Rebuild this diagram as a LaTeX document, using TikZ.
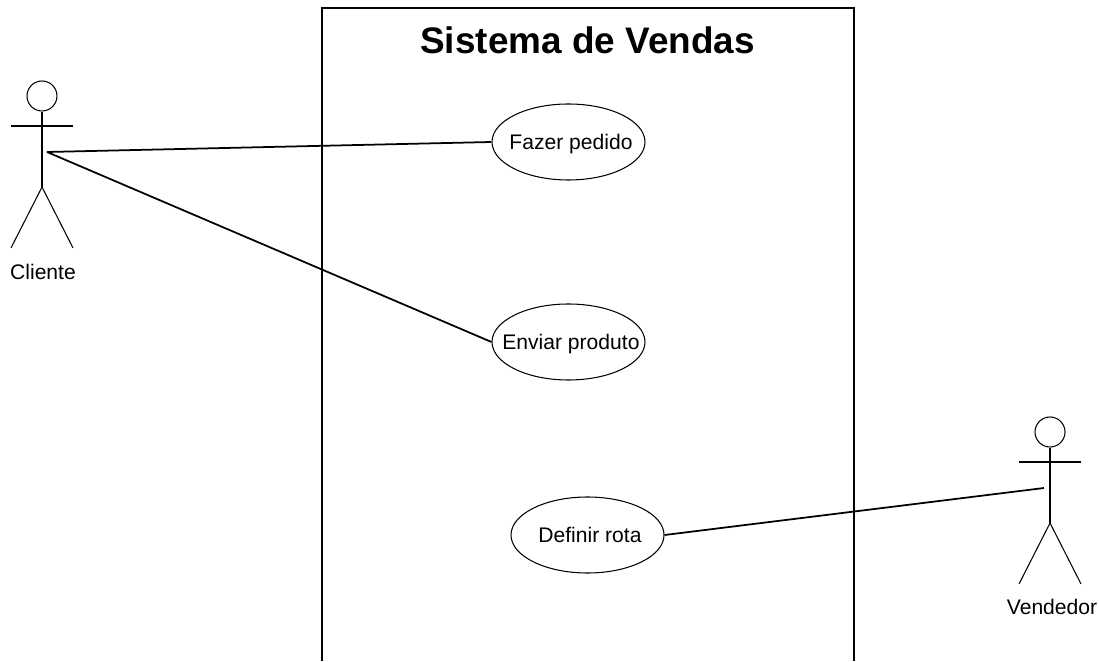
\documentclass[tikz,border=0pt]{standalone}
\usepackage{fontspec}
\setmainfont{Liberation Sans}
\usetikzlibrary{shapes.geometric}
\newcommand{\uctext}[1]{\raisebox{-4pt}[0pt][0pt]{\makebox[0pt]{\hspace{2.8pt}#1}}}
\tikzset{
  usecase/.style={draw,ellipse,line width=0.6pt,minimum width=3.06cm,minimum height=1.52cm,inner sep=0pt,font=\fontsize{12}{14}\selectfont},
  actorhead/.style={draw,circle,line width=0.6pt,minimum size=0.6cm,inner sep=0pt},
  actorline/.style={line width=0.6pt},
  actorname/.style={font=\fontsize{12}{14}\selectfont},
  assoc/.style={line width=1pt},
}
\begin{document}
\begin{tikzpicture}
		\useasboundingbox (0,0) rectangle (21.98,13.22);
		\draw [line width=1pt] (6.44,0) -- (6.44,13.06) -- (17.08,13.06) -- (17.08,0);
		\node [font=\fontsize{21}{25}\selectfont\bfseries] (title) at (11.75,12.42) {Sistema de Vendas};
		\node [usecase] (fazer) at (11.37,10.38) {\uctext{Fazer pedido}};
		\node [usecase] (enviar) at (11.37,6.38) {\uctext{Enviar produto}};
		\node [usecase] (definir) at (11.75,2.52) {\uctext{Definir rota}};
		% Cliente
		\node [actorhead] (h1) at (0.84,11.30) {};
		\coordinate (hip1) at (0.84,9.48);
		\coordinate (hand1) at (0.94,10.18);
		\draw [actorline] (h1) -- (hip1);
		\draw [actorline] (0.22,10.70) -- (1.46,10.70);
		\draw [actorline] (0.22,8.26) -- (hip1) -- (1.46,8.26);
		\node [actorname] (cliente) at (0.86,7.78) {Cliente};
		% Vendedor
		\node [actorhead] (h2) at (21.00,4.58) {};
		\coordinate (hip2) at (21.00,2.76);
		\coordinate (hand2) at (20.88,3.46);
		\draw [actorline] (h2) -- (hip2);
		\draw [actorline] (20.38,3.98) -- (21.62,3.98);
		\draw [actorline] (20.38,1.54) -- (hip2) -- (21.62,1.54);
		\node [actorname] (vendedor) at (21.04,1.08) {Vendedor};
		% associations
		\draw [assoc] (hand1) -- (fazer.west);
		\draw [assoc] (hand1) -- (enviar.west);
		\draw [assoc] (definir.east) -- (hand2);
\end{tikzpicture}
\end{document}
